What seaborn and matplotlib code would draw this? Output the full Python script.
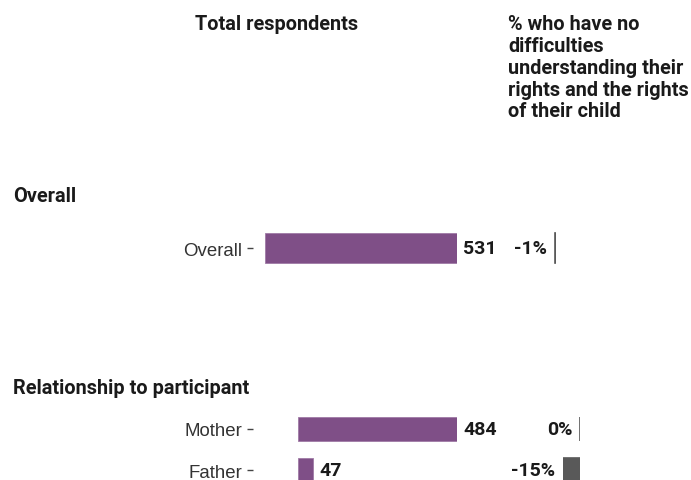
import matplotlib
matplotlib.use("Agg")
import matplotlib.pyplot as plt
import seaborn as sns

# === Data ===
overall_groups = ["Overall"]
overall_totals = [531]
overall_pct = [-1]

relation_groups = ["Mother", "Father"]
relation_totals = [484, 47]
relation_pct = [0, -15]

PURPLE = "#7f4f87"
GREY = "#595959"
W, H = 691, 481

sns.set_theme(style="white")
plt.rcParams["font.family"] = ["Liberation Sans", "DejaVu Sans"]

fig = plt.figure(figsize=(W / 100, H / 100), dpi=100)


def px_axes(x0, x1, y_top, y_bot):
    # axes placed in pixel units measured from the top-left corner
    return fig.add_axes([x0 / W, 1 - y_bot / H, (x1 - x0) / W, (y_bot - y_top) / H])


def clean(ax):
    for s in ax.spines.values():
        s.set_visible(False)
    ax.set_xlabel("")
    ax.set_ylabel("")
    ax.set_xticks([])


def total_panel(ax, groups, totals, outward):
    sns.barplot(x=totals, y=groups, orient="h", color=PURPLE, width=0.6,
                saturation=1, edgecolor="#a07aa6", linewidth=0.6, ax=ax)
    ax.set_xlim(0, max(totals))
    ax.set_ylim(len(groups) - 0.5, -0.5)
    clean(ax)
    ax.spines["left"].set_position(("outward", outward))
    ax.tick_params(axis="y", left=True, length=4.3, width=1, color="#444444",
                   pad=3.5, labelsize=13.4, labelcolor="#333333")
    for i, v in enumerate(totals):
        ax.annotate(str(v), (v, i), xytext=(4.5, 0), textcoords="offset points",
                    ha="left", va="center", fontsize=14, fontweight="bold",
                    family="Roboto", color="#1a1a1a")


def pct_panel(ax, groups, pct):
    sns.barplot(x=pct, y=groups, orient="h", color=GREY, width=0.6,
                saturation=1, edgecolor=GREY, linewidth=1.2, ax=ax)
    ax.set_xlim(-15, 0)
    ax.set_ylim(len(groups) - 0.5, -0.5)
    clean(ax)
    ax.set_yticks([])
    for i, v in enumerate(pct):
        ax.annotate(f"{v}%", (min(v, 0), i), xytext=(-5.5, 0), textcoords="offset points",
                    ha="right", va="center", fontsize=14, fontweight="bold",
                    family="Roboto", color="#1a1a1a")


# Overall section
ax1 = px_axes(265, 457, 224, 274)
total_panel(ax1, overall_groups, overall_totals, 8.6)
ax2 = px_axes(539, 556, 224, 274)
pct_panel(ax2, overall_groups, overall_pct)

# Relationship section
ax3 = px_axes(298, 457, 409.5, 491.5)
total_panel(ax3, relation_groups, relation_totals, 32.4)
ax4 = px_axes(563, 580, 409.5, 491.5)
pct_panel(ax4, relation_groups, relation_pct)

# Headers
head = dict(fontsize=14.3, fontweight="bold", family="Roboto", color="#1a1a1a")
fig.text(195 / W, 1 - 24 / H, "Total respondents", ha="left", va="center", **head)
fig.text(508 / W, 1 - 15.5 / H,
         "% who have no\ndifficulties\nunderstanding their\nrights and the rights\nof their child",
         ha="left", va="top", linespacing=1.18, **head)
fig.text(13 / W, 1 - 197 / H, "Overall", ha="left", va="center", **head)
fig.text(13 / W, 1 - 388 / H, "Relationship to participant", ha="left", va="center", **head)

fig.savefig("out.png", dpi=100)
